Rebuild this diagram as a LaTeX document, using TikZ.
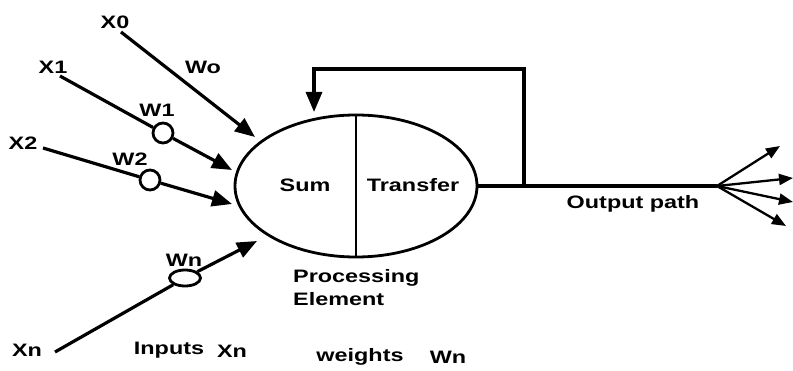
\documentclass[tikz,border=0pt]{standalone}
\usepackage{fontspec}
\setmainfont{Liberation Sans}
\usetikzlibrary{arrows.meta,shapes.geometric}
\newcommand\sx[1]{\scalebox{1.3}[1]{\bfseries #1}}
\tikzset{
  lab/.style={inner sep=0pt,font=\fontsize{18}{20}\selectfont},
  wire/.style={line width=3.2pt},
  arr/.style={wire,-{Triangle[length=20pt,width=16pt]}},
  farr/.style={line width=2.3pt,-{Triangle[length=14pt,width=11pt]}},
  wcirc/.style={draw,circle,line width=2.8pt,minimum size=20pt,inner sep=0pt},
}
\begin{document}
\begin{tikzpicture}[x=1pt,y=-1pt]
\useasboundingbox (0,0) rectangle (793,371);
% processing element
\node[draw,ellipse,line width=2.8pt,minimum width=242pt,minimum height=142pt,inner sep=0pt] (pe) at (356,186) {};
\draw[line width=2.6pt] (pe.north) -- (pe.south);
\node[lab] (sum) at (305,185) {\sx{Sum}};
\node[lab] (tr) at (413,185) {\sx{Transfer}};
\node[lab,anchor=west] (proc) at (293,278) {\sx{Processing}};
\node[lab,anchor=west] (elem) at (293,299) {\sx{Element}};
% inputs
\coordinate (x0s) at (121,32);
\coordinate (x0t) at (255,137);
\coordinate (x1s) at (60,76);
\coordinate (x1t) at (232,170);
\coordinate (x2s) at (43,148);
\coordinate (x2t) at (232,204);
\coordinate (xns) at (55,352);
\coordinate (xnt) at (257,241);
\node[lab] (lx0) at (115,22) {\sx{X0}};
\node[lab] (lwo) at (203,67) {\sx{Wo}};
\node[lab] (lx1) at (53,67) {\sx{X1}};
\node[lab] (lw1) at (157,110) {\sx{W1}};
\node[lab] (lx2) at (23,143) {\sx{X2}};
\node[lab] (lw2) at (130,159) {\sx{W2}};
\node[lab] (lwn) at (184,260) {\sx{Wn}};
\node[lab] (lxn) at (27,350) {\sx{Xn}};
\node[wcirc] (w1) at (163,133) {};
\node[wcirc] (w2) at (150,180) {};
\node[draw,ellipse,line width=2.8pt,minimum width=31pt,minimum height=16pt,inner sep=0pt] (wn) at (185,278) {};
\draw[arr] (x0s) -- (x0t);
\draw[wire] (x1s) -- (w1);
\draw[arr] (w1) -- (x1t);
\draw[wire] (x2s) -- (w2);
\draw[arr] (w2) -- (x2t);
\draw[wire] (xns) -- (wn);
\draw[arr] (wn) -- (xnt);
% feedback and output
\coordinate (j) at (524,185);
\coordinate (top) at (524,69);
\coordinate (fb) at (314,112);
\coordinate (fan) at (717,186);
\draw[wire] (pe.east) -- (fan);
\draw[arr] (j) -- (top) -| (fb);
\coordinate (o1) at (780,146);
\coordinate (o2) at (793,178);
\coordinate (o3) at (793,202);
\coordinate (o4) at (786,226);
\foreach \o in {o1,o2,o3,o4} \draw[farr] (fan) -- (\o);
\node[lab] (outp) at (633,204) {\sx{Output path}};
% bottom labels
\node[lab] (inp) at (169,350) {\sx{Inputs}};
\node[lab] (inx) at (232,351) {\sx{Xn}};
\node[lab] (wts) at (360,357) {\sx{weights}};
\node[lab] (wtn) at (448,357) {\sx{Wn}};
\end{tikzpicture}
\end{document}
